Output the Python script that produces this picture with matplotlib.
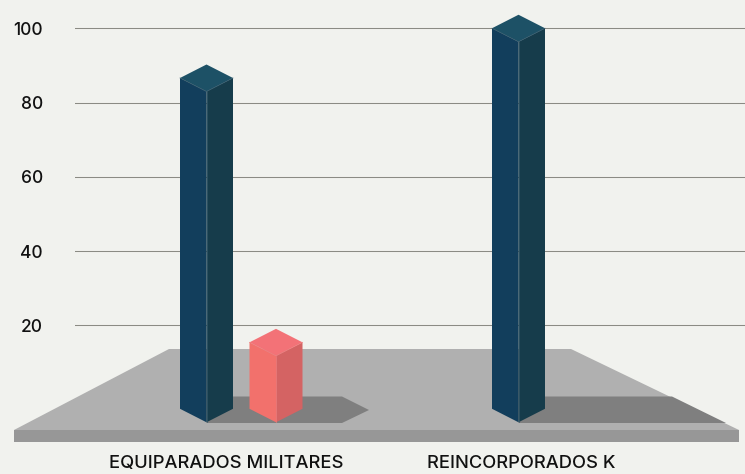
import matplotlib
matplotlib.use('Agg')
import matplotlib.pyplot as plt
from matplotlib.patches import Polygon

categories = ['EQUIPARADOS MILITARES', 'REINCORPORADOS K']
blue_values = [86.6, 100]
pink_values = [15.4, 0]
y_ticks = [20, 40, 60, 80, 100]

BG = '#f1f2ee'
W, H = 745, 474
PX_PER_UNIT = 3.7125     # 297 px between ticks 20 and 100
Y0_PX = 399.5            # pixel row of value 0
AX_BOTTOM_PX = 452
BAR_HALF = 26.5
ISO = 13.5 / PX_PER_UNIT # depth of the isometric top, in data units
BASE = -2.5              # left corner of the bar foot sits a bit under 0

BLUE = ('#123e5c', '#163c4b', '#1d5166', '#35596b')
PINK = ('#f2716c', '#d46363', '#f37277', '#ee7f7f')


def py(px):
    """pixel row (from top) -> data value"""
    return (Y0_PX - px) / PX_PER_UNIT


def shape(ax, pts, color, z=2, edge='none', lw=0):
    ax.add_patch(Polygon([(x, py(y)) for x, y in pts], closed=True, facecolor=color,
                         edgecolor=edge, linewidth=lw, clip_on=False, zorder=z))


def iso_bar(ax, xc, value, colors):
    front, side, top, line = colors
    l, r = xc - BAR_HALF, xc + BAR_HALF
    ax.fill([l, xc, xc, l], [BASE, BASE - ISO, value - ISO, value], color=front, lw=0, zorder=4)
    ax.fill([xc, r, r, xc], [BASE - ISO, BASE, value, value - ISO], color=side, lw=0, zorder=4)
    ax.fill([l, xc, r, xc], [value, value - ISO, value, value + ISO], color=top, lw=0, zorder=4)
    ax.plot([l, xc, r], [value, value - ISO, value], color=line, lw=0.5, zorder=5)
    ax.plot([xc, xc], [BASE - ISO, value - ISO], color=line, lw=0.5, zorder=5)


fig = plt.figure(figsize=(W / 100, H / 100), dpi=100, facecolor=BG)
ax = fig.add_axes([75 / W, (H - AX_BOTTOM_PX) / H, 1 - 75 / W, AX_BOTTOM_PX / H])
ax.set_facecolor(BG)
ax.set_xlim(75, W)
ax.set_ylim(py(AX_BOTTOM_PX), py(0))

# floor slab
shape(ax, [(169, 349), (571, 349), (739, 430), (14, 430)], '#b0b0b0')
shape(ax, [(14, 430), (739, 430), (739, 442), (14, 442)], '#979797')

# shadows
shape(ax, [(206, 423), (233, 396.5), (342, 396.5), (369, 410), (342, 423)], '#7f7f7f', z=3)
shape(ax, [(518, 423), (545, 396.5), (672, 396.5), (726, 423)], '#7f7f7f', z=3)

iso_bar(ax, 206.5, blue_values[0], BLUE)
iso_bar(ax, 518.5, blue_values[1], BLUE)
iso_bar(ax, 276, pink_values[0], PINK)

font = ['Inter', 'DejaVu Sans']
ax.set_yticks(y_ticks)
ax.set_yticklabels([str(t) for t in y_ticks], family=font, fontsize=12.5, fontweight='medium', color='#111111')
ax.set_xticks([226, 521.5])
ax.set_xticklabels(categories, family=font, fontsize=13.2, fontweight='medium', color='#111111')
ax.tick_params(axis='y', length=0, pad=23)
ax.tick_params(axis='x', length=0, pad=2)
ax.grid(axis='y', color='#8b8b84', lw=0.75)
ax.set_axisbelow(True)
for spine in ax.spines.values():
    spine.set_visible(False)

fig.savefig('out.png', dpi=100, facecolor=BG)
